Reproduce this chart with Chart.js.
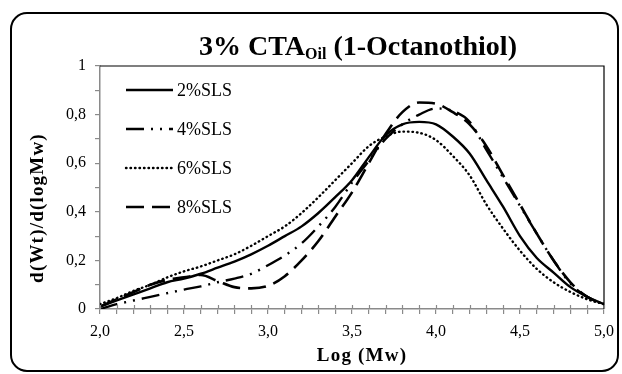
<!DOCTYPE html>
<html>
<head>
<meta charset="utf-8">
<script src="https://cdn.jsdelivr.net/npm/chart.js@4"></script>
<style>
  html, body { margin: 0; padding: 0; background: #fff; }
  #wrap { width: 622px; height: 374px; position: relative; }
</style>
</head>
<body>
<div id="wrap"><canvas id="gpc"></canvas></div>
<script>
const logMw = [2.0, 2.1, 2.2, 2.3, 2.4, 2.5, 2.6, 2.7, 2.8, 2.9, 3.0, 3.1, 3.2, 3.3, 3.4, 3.5,
  3.6, 3.7, 3.8, 3.9, 4.0, 4.1, 4.2, 4.3, 4.4, 4.5, 4.6, 4.7, 4.8, 4.9, 5.0];
const sls2 = [0.01, 0.035, 0.06, 0.085, 0.11, 0.125, 0.145, 0.17, 0.195, 0.225, 0.26, 0.30, 0.34, 0.395, 0.46, 0.53,
  0.625, 0.715, 0.76, 0.77, 0.76, 0.71, 0.64, 0.53, 0.42, 0.30, 0.21, 0.15, 0.09, 0.05, 0.02];
const sls4 = [0.0, 0.02, 0.035, 0.05, 0.065, 0.08, 0.093, 0.11, 0.125, 0.145, 0.18, 0.22, 0.27, 0.34, 0.42, 0.52,
  0.61, 0.70, 0.76, 0.80, 0.825, 0.815, 0.77, 0.655, 0.54, 0.425, 0.31, 0.20, 0.105, 0.05, 0.02];
const sls6 = [0.02, 0.045, 0.075, 0.10, 0.13, 0.155, 0.175, 0.20, 0.225, 0.26, 0.30, 0.34, 0.395, 0.46, 0.53, 0.60,
  0.67, 0.71, 0.73, 0.725, 0.695, 0.63, 0.55, 0.43, 0.33, 0.24, 0.165, 0.11, 0.07, 0.04, 0.02];
const sls8 = [0.01, 0.04, 0.07, 0.10, 0.12, 0.13, 0.14, 0.115, 0.09, 0.085, 0.095, 0.135, 0.20, 0.28, 0.38, 0.48,
  0.60, 0.72, 0.81, 0.85, 0.845, 0.81, 0.76, 0.67, 0.55, 0.43, 0.31, 0.20, 0.11, 0.05, 0.02];
const seriesNames = ["2%SLS", "4%SLS", "6%SLS", "8%SLS"];

const serif = "'Liberation Serif', 'Times New Roman', serif";
const axisGray = "#8a8a8a";

function points(ys) {
  return logMw.map((x, i) => ({ x, y: ys[i] }));
}

function comma(v, digits) {
  return v.toFixed(digits).replace(".", ",");
}

const styles = [
  { borderWidth: 2.4, borderDash: [], borderCapStyle: "butt" },
  { borderWidth: 2.4, borderDash: [18, 7, 2, 7, 2, 7], borderCapStyle: "butt" },
  { borderWidth: 2.4, borderDash: [0.5, 4], borderCapStyle: "round" },
  { borderWidth: 2.6, borderDash: [18, 8], borderCapStyle: "butt" }
];

const datasets = [sls2, sls4, sls6, sls8].map((ys, i) => ({
  label: seriesNames[i],
  data: points(ys),
  borderColor: "#000",
  borderWidth: styles[i].borderWidth,
  borderDash: styles[i].borderDash,
  borderCapStyle: styles[i].borderCapStyle,
  pointRadius: 0,
  cubicInterpolationMode: "monotone",
  fill: false
}));

// frame, title, axis titles, inner tick halves and legend
const decor = {
  id: "decor",
  beforeDraw(chart) {
    const ctx = chart.ctx;
    ctx.save();
    ctx.fillStyle = "#fff";
    ctx.fillRect(0, 0, chart.width, chart.height);
    ctx.strokeStyle = "#000";
    ctx.lineWidth = 2;
    ctx.beginPath();
    ctx.roundRect(11, 13, 607, 358, 16);
    ctx.stroke();
    ctx.restore();
  },
  afterDraw(chart) {
    const ctx = chart.ctx;
    const area = chart.chartArea;
    const xs = chart.scales.x;
    ctx.save();

    // top and right edges of plot area
    ctx.strokeStyle = "#000";
    ctx.lineWidth = 1.2;
    ctx.beginPath();
    ctx.moveTo(area.left, area.top);
    ctx.lineTo(area.right, area.top);
    ctx.lineTo(area.right, area.bottom);
    ctx.stroke();

    // x ticks cross the axis
    ctx.strokeStyle = axisGray;
    ctx.lineWidth = 1.2;
    xs.ticks.forEach(t => {
      const px = Math.round(xs.getPixelForValue(t.value)) + 0.5;
      ctx.beginPath();
      ctx.moveTo(px, area.bottom);
      ctx.lineTo(px, area.bottom - 4);
      ctx.stroke();
    });

    // title with subscript
    const big = "bold 28px " + serif, small = "bold 16px " + serif;
    const p1 = "3% CTA", p2 = "Oil", p3 = " (1-Octanothiol)";
    ctx.fillStyle = "#000";
    ctx.textBaseline = "alphabetic";
    ctx.textAlign = "left";
    ctx.font = big;
    const w1 = ctx.measureText(p1).width, w3 = ctx.measureText(p3).width;
    ctx.font = small;
    const w2 = ctx.measureText(p2).width;
    const tx = 358 - (w1 + w2 + w3) / 2;
    ctx.font = big;
    ctx.fillText(p1, tx, 55);
    ctx.font = small;
    ctx.fillText(p2, tx + w1, 59);
    ctx.font = big;
    ctx.fillText(p3, tx + w1 + w2, 55);

    // axis titles
    ctx.font = "bold 19px " + serif;
    ctx.letterSpacing = "1.2px";
    ctx.textAlign = "center";
    ctx.fillText("Log (Mw)", 362, 361);
    ctx.save();
    ctx.translate(43, 208);
    ctx.rotate(-Math.PI / 2);
    ctx.fillText("d(Wt)/d(logMw)", 0, 0);
    ctx.restore();
    ctx.letterSpacing = "0px";

    // legend inside plot
    ctx.font = "18px " + serif;
    ctx.textAlign = "left";
    ctx.textBaseline = "middle";
    const rows = [90, 129, 168, 207];
    chart.data.datasets.forEach((ds, i) => {
      const y = rows[i];
      ctx.strokeStyle = ds.borderColor;
      ctx.lineWidth = ds.borderWidth;
      ctx.setLineDash(ds.borderDash);
      ctx.lineCap = ds.borderCapStyle;
      ctx.beginPath();
      ctx.moveTo(126, y);
      ctx.lineTo(173, y);
      ctx.stroke();
      ctx.setLineDash([]);
      ctx.lineCap = "butt";
      ctx.fillText(ds.label, 177, y + 1);
    });
    ctx.restore();
  }
};

new Chart(document.getElementById("gpc"), {
  type: "line",
  data: { datasets },
  options: {
    responsive: true,
    maintainAspectRatio: false,
    animation: false,
    layout: { padding: { left: 0, top: 66, right: 14, bottom: 0 } },
    plugins: { legend: { display: false }, tooltip: { enabled: false } },
    scales: {
      x: {
        type: "linear",
        min: 2,
        max: 5,
        afterFit: s => { s.height = 65; },
        border: { color: axisGray, width: 1.5 },
        grid: { drawOnChartArea: false, drawTicks: true, tickLength: 5, color: axisGray, lineWidth: 1.2 },
        ticks: {
          stepSize: 0.1,
          autoSkip: false,
          maxRotation: 0,
          padding: 8,
          color: "#000",
          font: { family: serif, size: 16 },
          callback: v => (Math.round(v * 10) % 5 === 0 ? comma(v, 1) : "")
        }
      },
      y: {
        min: 0,
        max: 1,
        afterFit: s => { s.width = 100; },
        border: { color: axisGray, width: 1.5 },
        grid: { drawOnChartArea: false, drawTicks: true, tickLength: 5, color: axisGray, lineWidth: 1.2 },
        ticks: {
          stepSize: 0.1,
          autoSkip: false,
          padding: 9,
          color: "#000",
          font: { family: serif, size: 16 },
          callback: v => {
            const k = Math.round(v * 10);
            if (k % 2 !== 0) return "";
            if (k === 0) return "0";
            if (k === 10) return "1";
            return comma(v, 1);
          }
        }
      }
    }
  },
  plugins: [decor]
});
</script>
</body>
</html>
